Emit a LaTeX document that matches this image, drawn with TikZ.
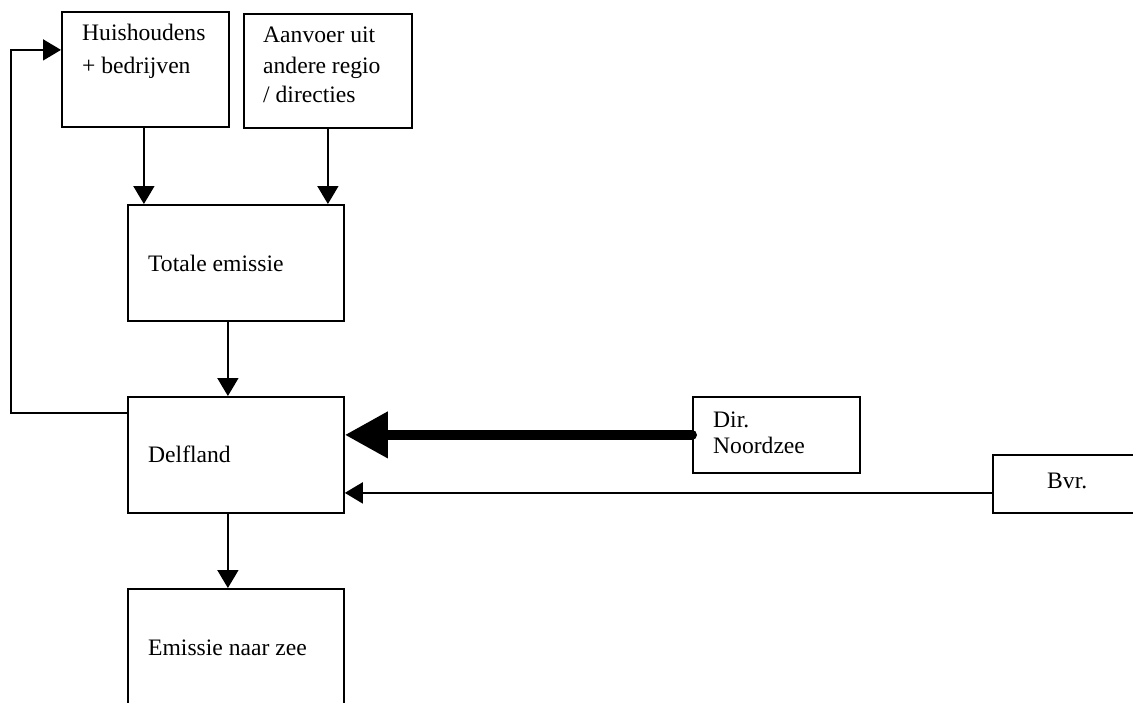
\documentclass[tikz,border=0pt]{standalone}
\usepackage{fontspec}
\setmainfont{Liberation Serif}
\usetikzlibrary{arrows.meta}
\begin{document}
\begin{tikzpicture}[x=1pt,y=-1pt,
  box/.style={draw, line width=1.8pt, inner sep=0pt, anchor=north west},
  lbl/.style={anchor=base west, inner sep=0pt, font=\fontsize{23.6}{25}\selectfont},
  arr/.style={line width=1.8pt, -{Triangle[length=18pt,width=21pt]}},
  bigarr/.style={line width=10pt, line cap=round, -{Triangle[length=43pt,width=44pt]}}]
\useasboundingbox (0,0) rectangle (1133,702);
\clip (0,0) rectangle (1133,702);
% boxes
\node[box, minimum width=167pt, minimum height=115pt] (hh) at (61,11) {};
\node[box, minimum width=168pt, minimum height=114pt] (aa) at (243,13) {};
\node[box, minimum width=216pt, minimum height=116pt] (tot) at (127,204) {};
\node[box, minimum width=216pt, minimum height=116pt] (del) at (127,396) {};
\node[box, minimum width=216pt, minimum height=140pt] (ez) at (127,588) {};
\node[box, minimum width=167pt, minimum height=76pt] (dn) at (692,396) {};
\node[box, minimum width=160pt, minimum height=58pt] (bvr) at (992,454) {};
% labels
\node[lbl] (hh1) at (82,40) {Huishoudens};
\node[lbl] (hh2) at (82,73) {+ bedrijven};
\node[lbl] (aa1) at (263,42) {Aanvoer uit};
\node[lbl] (aa2) at (263,73) {andere regio};
\node[lbl] (aa3) at (263,102) {/ directies};
\node[lbl] (totl) at (148,271) {Totale emissie};
\node[lbl] (dell) at (148,462) {Delfland};
\node[lbl] (ezl) at (148,655) {Emissie naar zee};
\node[lbl] (dn1) at (713,427) {Dir.};
\node[lbl] (dn2) at (713,453) {Noordzee};
\node[lbl] (bvrl) at (1047,488) {Bvr.};
% connectors
\draw[arr] ([xshift=-1.5pt]hh.south) -- ([xshift=-1.5pt]hh.south |- tot.north);
\draw[arr] (aa.south) -- (aa.south |- tot.north);
\draw[arr] ([xshift=-8pt]tot.south) -- ([xshift=-8pt]del.north);
\draw[arr] ([xshift=-8pt]del.south) -- ([xshift=-8pt]ez.north);
\draw[arr] ([yshift=42pt]del.west) -- ++(-116pt,0) |- ([yshift=19.5pt]hh.west);
\draw[bigarr] (dn.west) -- (dn.west -| del.east);
\draw[arr] ([yshift=-9pt]bvr.west) -- ([yshift=-9pt]bvr.west -| del.east);
\end{tikzpicture}
\end{document}
